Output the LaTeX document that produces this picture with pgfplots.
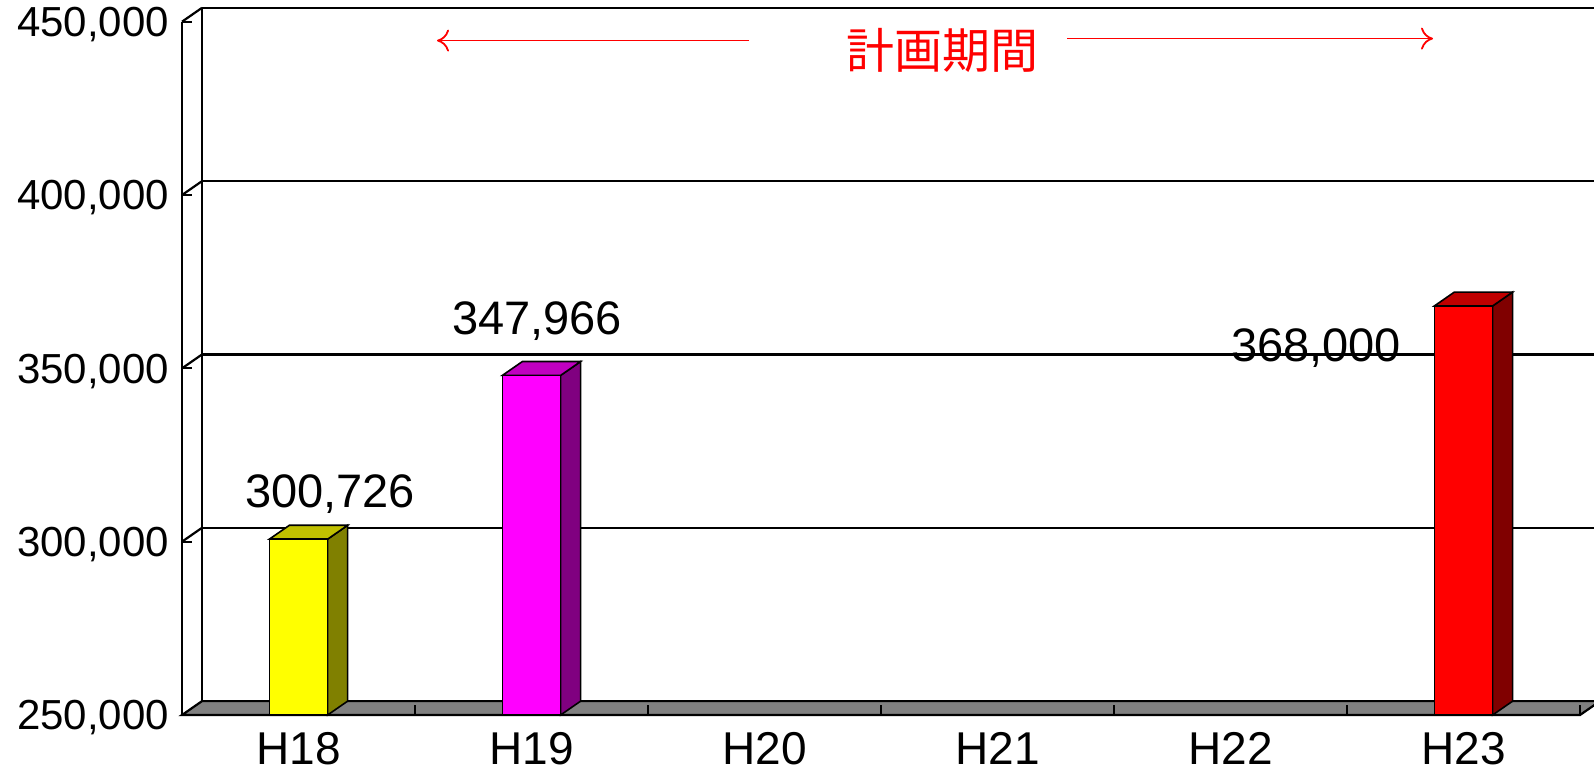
\documentclass[border=0pt]{standalone}
\usepackage{fontspec}
\setmainfont{Liberation Sans}
\newfontfamily\jp{Noto Sans CJK JP}
\usepackage{pgfplots}
\pgfplotsset{compat=1.18}
\usetikzlibrary{arrows.meta}

\definecolor{yfront}{HTML}{FFFF00}
\definecolor{ytop}{HTML}{C0C000}
\definecolor{yside}{HTML}{808000}
\definecolor{mfront}{HTML}{FF00FF}
\definecolor{mtop}{HTML}{C000C0}
\definecolor{mside}{HTML}{800080}
\definecolor{rfront}{HTML}{FF0000}
\definecolor{rtop}{HTML}{C00000}
\definecolor{rside}{HTML}{800000}

% 3D bar: #1 position, #2 value, #3 front, #4 top, #5 side
\newcommand\cube[5]{%
  \pgfmathsetmacro\xl{#1-0.125}%
  \pgfmathsetmacro\xr{#1+0.125}%
  \pgfmathsetmacro\xrr{#1+0.125+0.0858}%
  \pgfmathsetmacro\xll{#1-0.125+0.0858}%
  \edef\vt{\the\numexpr#2+4000\relax}%
  \edef\doit{%
    \noexpand\addplot[draw=black,line width=0.8pt,fill=#5] coordinates {(\xr,250000) (\xrr,254000) (\xrr,\vt) (\xr,#2)} -- cycle;
    \noexpand\addplot[draw=black,line width=0.8pt,fill=#4] coordinates {(\xl,#2) (\xr,#2) (\xrr,\vt) (\xll,\vt)} -- cycle;
    \noexpand\addplot[draw=black,line width=0.8pt,fill=#3] coordinates {(\xl,250000) (\xr,250000) (\xr,#2) (\xl,#2)} -- cycle;
  }\doit}

\begin{document}
\begin{tikzpicture}
\path[use as bounding box] (0,0) rectangle (797pt,385.5pt);
\clip (0,0) rectangle (797pt,385.5pt);
\begin{axis}[
    at={(91pt,28pt)}, anchor=south west,
    width=699pt, height=346.65pt, scale only axis,
    xmin=-0.5, xmax=5.5,
    ymin=250000, ymax=450000,
    clip=false, axis on top,
    axis line style={draw=none},
    xtick={0,1,2,3,4,5},
    xticklabels={H18,H19,H20,H21,H22,H23},
    major x tick style={draw=none},
    minor xtick={-0.5,0.5,1.5,2.5,3.5,4.5,5.5},
    minor tick length=5pt,
    xtick pos=bottom, ytick pos=left,
    ytick={250000,300000,350000,400000,450000},
    tick align=inside, major tick length=5pt,
    tick style={black, line width=1pt},
    scaled y ticks=false,
    /pgf/number format/.cd, fixed, 1000 sep={,}, assume math mode=true,
    /pgfplots/.cd,
    yticklabel style={font=\fontsize{21}{25}\selectfont, xshift=-3pt, yshift=-1.5pt},
    xticklabel style={font=\fontsize{23}{27}\selectfont, yshift=-5pt},
]
% back wall and side wall
\draw[line width=1.1pt] (axis cs:-0.4142,254000) -- (axis cs:-0.4142,454000);
\draw[line width=1.1pt] (axis cs:-0.4142,304000) -- (axis cs:6.2,304000);
\draw[line width=1.1pt] (axis cs:-0.4142,354000) -- (axis cs:6.2,354000);
\draw[line width=1.1pt] (axis cs:-0.4142,404000) -- (axis cs:6.2,404000);
\draw[line width=1.1pt] (axis cs:-0.4142,454000) -- (axis cs:6.2,454000);
\draw[line width=1.1pt] (axis cs:-0.5,300000) -- (axis cs:-0.4142,304000);
\draw[line width=1.1pt] (axis cs:-0.5,350000) -- (axis cs:-0.4142,354000);
\draw[line width=1.1pt] (axis cs:-0.5,400000) -- (axis cs:-0.4142,404000);
\draw[line width=1.1pt] (axis cs:-0.5,450000) -- (axis cs:-0.4142,454000);
\draw[line width=1.1pt] (axis cs:-0.5,250000) -- (axis cs:-0.5,450000);
% floor
\filldraw[fill=gray, line width=1.1pt] (axis cs:-0.5,250000) -- (axis cs:5.5,250000)
    -- (axis cs:5.5858,254000) -- (axis cs:-0.4142,254000) -- cycle;
% bars
\cube{0}{300726}{yfront}{ytop}{yside}
\cube{1}{347966}{mfront}{mtop}{mside}
\cube{5}{368000}{rfront}{rtop}{rside}
% value labels
\node[anchor=base, font=\fontsize{23.5}{28}\selectfont] at (axis cs:0.135,309723) {300,726};
\node[anchor=base, font=\fontsize{23.5}{28}\selectfont] at (axis cs:1.024,359780) {347,966};
\node[anchor=base, font=\fontsize{23.5}{28}\selectfont] at (axis cs:4.367,351933) {368,000};
\end{axis}
% planning period annotation
\draw[red, line width=0.9pt, -{To[length=6pt,width=11pt]}] (374.5pt,365.2pt) -- (218.5pt,365.2pt);
\draw[red, line width=0.9pt, -{To[length=6pt,width=11pt]}] (533.5pt,366.2pt) -- (716.5pt,366.2pt);
\node[red, font=\jp\fontsize{24}{29}\selectfont] at (471pt,360.5pt) {計画期間};
\end{tikzpicture}
\end{document}
